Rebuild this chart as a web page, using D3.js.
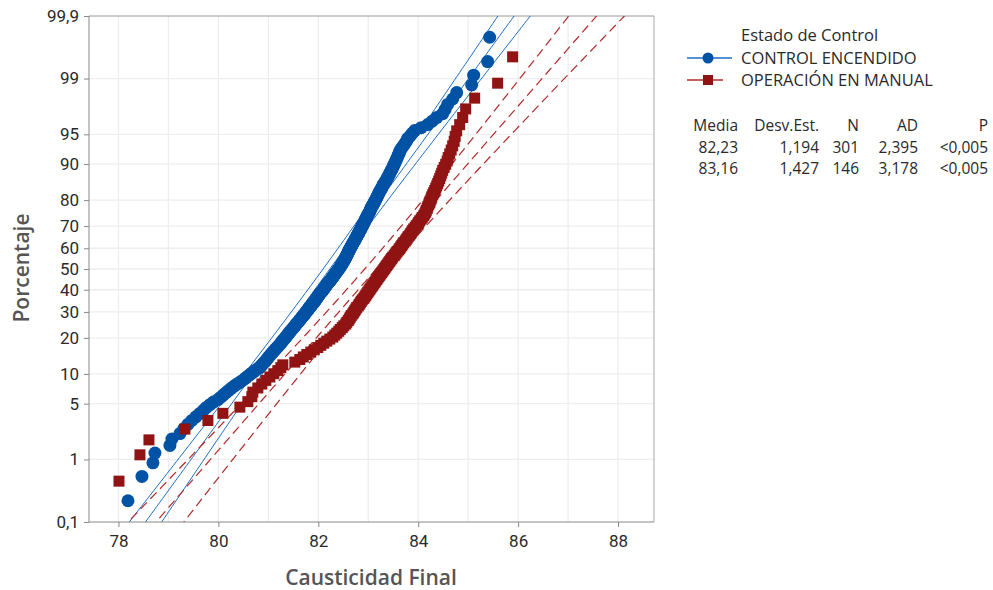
<!DOCTYPE html>
<html>
<head>
<meta charset="utf-8">
<script src="https://cdn.jsdelivr.net/npm/d3@7"></script>
<style>
  body { margin: 0; background: #fff; }
  svg { font-family: "Open Sans", "Noto Sans", sans-serif; }
  .tick text { font-family: Roboto, "Open Sans", sans-serif; font-size: 17px; fill: #2a2a2a; }
  .tick line { stroke: #888; }
  .domain { stroke: #888; }
</style>
</head>
<body>
<svg id="chart" width="993" height="590"></svg>
<script>
// sorted Causticidad Final values
var controlEncendido = [
  78.19, 78.47, 78.69, 78.73, 79.03, 79.07, 79.23, 79.31, 79.39, 79.47,
  79.55, 79.63, 79.70, 79.76, 79.83, 79.90, 79.99, 80.05, 80.10, 80.15,
  80.20, 80.25, 80.30, 80.35, 80.41, 80.46, 80.51, 80.55, 80.59, 80.63,
  80.67, 80.71, 80.75, 80.79, 80.83, 80.86, 80.88, 80.90, 80.93, 80.95,
  80.97, 80.99, 81.01, 81.03, 81.05, 81.07, 81.09, 81.11, 81.13, 81.15,
  81.17, 81.19, 81.21, 81.23, 81.25, 81.26, 81.28, 81.29, 81.31, 81.33,
  81.34, 81.36, 81.37, 81.39, 81.40, 81.42, 81.43, 81.45, 81.46, 81.48, 81.49, 81.51, 81.52, 81.54, 81.55,
  81.56, 81.58, 81.59, 81.61, 81.62, 81.63, 81.65, 81.66, 81.67, 81.69, 81.70, 81.71, 81.73, 81.74, 81.75,
  81.76, 81.77, 81.79, 81.80, 81.81, 81.82, 81.83, 81.85, 81.86, 81.87, 81.88, 81.89, 81.91, 81.92, 81.93,
  81.94, 81.95, 81.96, 81.97, 81.98, 81.99, 82.00, 82.01, 82.02, 82.03, 82.04, 82.05, 82.07, 82.08, 82.09,
  82.10, 82.11, 82.12, 82.13, 82.14, 82.15, 82.16, 82.17, 82.18, 82.19, 82.20, 82.21, 82.23, 82.24, 82.25,
  82.26, 82.27, 82.28, 82.29, 82.30, 82.31, 82.32, 82.33, 82.34, 82.35, 82.36, 82.37, 82.38, 82.39, 82.40, 82.41,
  82.42, 82.43, 82.44, 82.45, 82.45, 82.46, 82.47, 82.48, 82.49, 82.50, 82.50, 82.51, 82.52, 82.53,
  82.54, 82.54, 82.55, 82.56, 82.56, 82.57, 82.58, 82.58, 82.59, 82.60, 82.60, 82.61, 82.62, 82.62, 82.63,
  82.64, 82.65, 82.65, 82.66, 82.67, 82.68, 82.69, 82.69, 82.70, 82.71, 82.72, 82.73, 82.73, 82.74, 82.75,
  82.76, 82.77, 82.77, 82.78, 82.79, 82.80, 82.81, 82.81, 82.82, 82.83, 82.84, 82.85, 82.85, 82.86, 82.87,
  82.88, 82.89, 82.89, 82.90, 82.91, 82.92, 82.93, 82.93, 82.94, 82.95, 82.96, 82.97, 82.97, 82.98, 82.99,
  83.00, 83.01, 83.02, 83.03, 83.04, 83.04, 83.05, 83.06, 83.07, 83.08, 83.09, 83.10, 83.11, 83.12, 83.13,
  83.14, 83.15, 83.16, 83.17, 83.18, 83.19, 83.20, 83.21, 83.22, 83.23, 83.24, 83.26, 83.27, 83.28, 83.29,
  83.30, 83.32, 83.33, 83.35, 83.36, 83.38, 83.39, 83.40, 83.42, 83.43,
  83.44, 83.46, 83.47, 83.49, 83.50, 83.51, 83.53, 83.54, 83.56, 83.57,
  83.59, 83.60, 83.62, 83.63, 83.65, 83.68, 83.71, 83.74, 83.77, 83.79,
  83.84, 83.88, 83.93, 84.06, 84.19, 84.28, 84.37, 84.49, 84.54, 84.59,
  84.69, 84.77, 85.07, 85.11, 85.39, 85.43
];
var operacionManual = [
  78.01, 78.43, 78.61, 79.33, 79.79, 80.09, 80.43, 80.59, 80.67, 80.69,
  80.79, 80.87, 80.95, 81.03, 81.11, 81.19, 81.25, 81.29, 81.53, 81.63,
  81.70, 81.77, 81.85, 81.92, 81.99, 82.05, 82.11, 82.17, 82.23, 82.29,
  82.33, 82.37, 82.41, 82.44, 82.48, 82.51, 82.55,
  82.57, 82.60, 82.62, 82.64, 82.66, 82.69, 82.71, 82.73,
  82.75, 82.77, 82.80, 82.82, 82.84, 82.86, 82.88, 82.91, 82.93, 82.95,
  82.97, 82.99, 83.01, 83.03, 83.05, 83.07, 83.09, 83.11, 83.13, 83.15,
  83.17, 83.19, 83.21, 83.23, 83.25, 83.27, 83.29, 83.31,
  83.33, 83.35, 83.37, 83.39, 83.41, 83.43, 83.45,
  83.47, 83.49, 83.52, 83.54, 83.56, 83.58, 83.61, 83.63, 83.65, 83.67,
  83.69, 83.71, 83.74, 83.76, 83.78, 83.80, 83.83, 83.85, 83.87, 83.89,
  83.91, 83.94, 83.96, 83.99, 84.01, 84.03, 84.06, 84.08, 84.11, 84.13,
  84.15, 84.16, 84.18, 84.19, 84.21, 84.23, 84.24, 84.26, 84.27, 84.29,
  84.31, 84.33, 84.35, 84.37, 84.39, 84.41, 84.43, 84.45, 84.47, 84.49,
  84.52, 84.55, 84.58, 84.60, 84.63, 84.66, 84.69, 84.72, 84.74, 84.77,
  84.83, 84.89, 84.95, 85.13, 85.59, 85.89
];

var seriesNames = ["CONTROL ENCENDIDO", "OPERACIÓN EN MANUAL"];
var means = [82.23, 83.16];
var stdevs = [1.194, 1.427];
var counts = [301, 146];
var adValues = ["2,395", "3,178"];
var pValues = ["<0,005", "<0,005"];

var xTicks = [78, 80, 82, 84, 86, 88];
var xMinor = [79, 81, 83, 85, 87];
var yTicks = [0.1, 1, 5, 10, 20, 30, 40, 50, 60, 70, 80, 90, 95, 99, 99.9];

var colors = ["#0052a5", "#901414"];
var lineColors = ["#1d6cc4", "#b02a2a"];

// inverse normal cdf (Acklam)
function qnorm(p) {
  var a = [-39.69683028665376, 220.9460984245205, -275.9285104469687, 138.3577518672690, -30.66479806614716, 2.506628277459239];
  var b = [-54.47609879822406, 161.5858368580409, -155.6989798598866, 66.80131188771972, -13.28068155288572];
  var c = [-0.007784894002430293, -0.3223964580411365, -2.400758277161838, -2.549732539343734, 4.374664141464968, 2.938163982698783];
  var d = [0.007784695709041462, 0.3224671290700398, 2.445134137142996, 3.754408661907416];
  var q, r;
  if (p < 0.02425) {
    q = Math.sqrt(-2 * Math.log(p));
    return (((((c[0]*q+c[1])*q+c[2])*q+c[3])*q+c[4])*q+c[5]) / ((((d[0]*q+d[1])*q+d[2])*q+d[3])*q+1);
  }
  if (p > 1 - 0.02425) {
    q = Math.sqrt(-2 * Math.log(1 - p));
    return -(((((c[0]*q+c[1])*q+c[2])*q+c[3])*q+c[4])*q+c[5]) / ((((d[0]*q+d[1])*q+d[2])*q+d[3])*q+1);
  }
  q = p - 0.5; r = q * q;
  return (((((a[0]*r+a[1])*r+a[2])*r+a[3])*r+a[4])*r+a[5])*q / (((((b[0]*r+b[1])*r+b[2])*r+b[3])*r+b[4])*r+1);
}

var svg = d3.select("#chart");
var pLeft = 89, pRight = 654, pTop = 16, pBottom = 522;
var zMax = qnorm(0.999);

var x = d3.scaleLinear().domain([77.41, 88.72]).range([pLeft, pRight]);
var y = d3.scaleLinear().domain([-zMax, zMax]).range([pBottom, pTop]);

svg.append("defs").append("clipPath").attr("id", "plot")
  .append("rect").attr("x", pLeft).attr("y", pTop).attr("width", pRight - pLeft).attr("height", pBottom - pTop);

// grid
var grid = svg.append("g");
grid.selectAll(".vg").data(xTicks.concat(xMinor)).enter().append("line")
  .attr("x1", d => x(d)).attr("x2", d => x(d)).attr("y1", pTop).attr("y2", pBottom)
  .attr("stroke", "#eeeeee").attr("stroke-width", 1.3);
grid.selectAll(".hg").data(yTicks.slice(1, -1)).enter().append("line")
  .attr("x1", pLeft).attr("x2", pRight).attr("y1", d => y(qnorm(d / 100))).attr("y2", d => y(qnorm(d / 100)))
  .attr("stroke", "#eeeeee").attr("stroke-width", 1.3);

// frame
svg.append("line").attr("x1", pLeft).attr("x2", pRight).attr("y1", pTop).attr("y2", pTop).attr("stroke", "#999");
svg.append("line").attr("x1", pRight).attr("x2", pRight).attr("y1", pTop).attr("y2", pBottom).attr("stroke", "#aaa");

var plot = svg.append("g").attr("clip-path", "url(#plot)");

var data = [controlEncendido, operacionManual];

// points
data.forEach(function(vals, s) {
  var n = vals.length;
  var pts = vals.map((v, i) => ({ v: v, z: qnorm((i + 1 - 0.3) / (n + 0.4)) }));
  if (s === 0) {
    svg.append("g").selectAll("circle").data(pts).enter().append("circle")
      .attr("cx", d => x(d.v)).attr("cy", d => y(d.z)).attr("r", 6.5)
      .attr("fill", colors[0]);
  } else {
    svg.append("g").selectAll("rect").data(pts).enter().append("rect")
      .attr("x", d => x(d.v) - 5.5).attr("y", d => y(d.z) - 5.5)
      .attr("width", 11).attr("height", 11)
      .attr("fill", colors[1]);
  }
});

// fitted line and 95% confidence bands
var zs = d3.range(-3.3, 3.31, 0.05);
data.forEach(function(vals, s) {
  var m = means[s], sd = stdevs[s], n = counts[s];
  [-1, 0, 1].forEach(function(k) {
    var line = d3.line()
      .x(z => x(m + z * sd + k * 1.96 * sd * Math.sqrt(1 / n + z * z / (2 * (n - 1)))))
      .y(z => y(z));
    plot.append("path").datum(zs).attr("d", line)
      .attr("fill", "none").attr("stroke", lineColors[s]).attr("stroke-width", s === 1 ? 1.2 : 1)
      .attr("stroke-dasharray", s === 1 ? "9,5" : null);
  });
});

// axes
svg.append("g").attr("transform", "translate(0," + pBottom + ")")
  .call(d3.axisBottom(x).tickValues(xTicks).tickSize(5).tickPadding(8))
  .call(g => g.select(".domain").attr("d", "M" + pLeft + ",0H" + pRight));
svg.append("g").attr("transform", "translate(" + pLeft + ",0)")
  .call(d3.axisLeft(y).tickValues(yTicks.map(p => qnorm(p / 100))).tickSize(5).tickPadding(5)
    .tickFormat((d, i) => String(yTicks[i]).replace(".", ",")))
  .call(g => g.select(".domain").attr("d", "M0," + pTop + "V" + pBottom));

svg.append("text").attr("x", 371).attr("y", 585).attr("text-anchor", "middle")
  .style("font-size", "21px").style("font-weight", 600).attr("fill", "#555").text("Causticidad Final");
svg.append("text").attr("transform", "translate(29,268) rotate(-90)").attr("text-anchor", "middle")
  .style("font-size", "21px").style("font-weight", 600).attr("fill", "#555").text("Porcentaje");

// legend
var lg = svg.append("g").style("font-size", "16.5px").attr("fill", "#2a2a2a");
lg.append("text").attr("x", 741).attr("y", 41).text("Estado de Control");
seriesNames.forEach(function(name, s) {
  var yy = 58 + s * 22;
  lg.append("line").attr("x1", 687).attr("x2", s === 0 ? 732 : 723).attr("y1", yy).attr("y2", yy)
    .attr("stroke", lineColors[s]).attr("stroke-width", 1.3);
  if (s === 0) lg.append("circle").attr("cx", 708).attr("cy", yy).attr("r", 5.5).attr("fill", colors[0]);
  else lg.append("rect").attr("x", 703).attr("y", yy - 5).attr("width", 10).attr("height", 10).attr("fill", colors[1]);
  lg.append("text").attr("x", 741).attr("y", yy + 6).text(name);
});

// stats table
var colX = [738, 819, 859, 918, 988];
var header = ["Media", "Desv.Est.", "N", "AD", "P"];
var tb = svg.append("g").style("font-size", "15.5px").attr("fill", "#2a2a2a").attr("text-anchor", "end");
header.forEach((h, j) => tb.append("text").attr("x", colX[j]).attr("y", 131).text(h));
means.forEach(function(m, s) {
  var row = [String(m.toFixed(2)).replace(".", ","), String(stdevs[s].toFixed(3)).replace(".", ","),
             counts[s], adValues[s], pValues[s]];
  row.forEach((t, j) => tb.append("text").attr("x", colX[j]).attr("y", 152.5 + s * 21.5).text(t));
});
</script>
</body>
</html>
